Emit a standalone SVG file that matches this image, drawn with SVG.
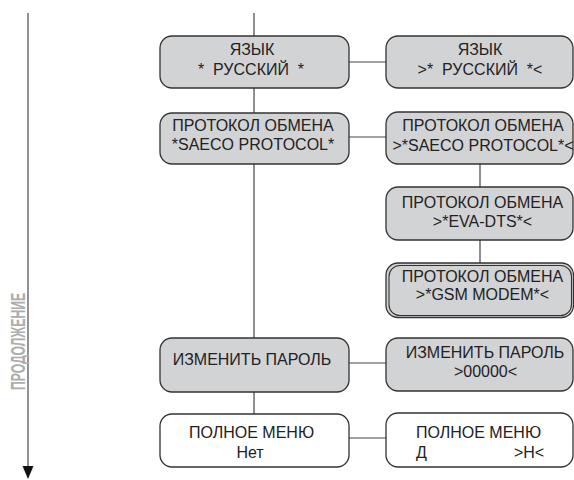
<svg xmlns="http://www.w3.org/2000/svg" width="574" height="480" viewBox="0 0 574 480">
<style>
.box{fill:#d2d3d5;stroke:#333;stroke-width:1.3}
.wbox{fill:#fff;stroke:#333;stroke-width:1.3}
.t{font-family:"Liberation Sans",Arial,sans-serif;font-size:16px;fill:#222;text-anchor:middle}
.c{stroke:#444;stroke-width:1.2;fill:none}
.side{font-family:"Liberation Sans",Arial,sans-serif;font-size:20px;font-weight:700;fill:#adadad}
</style>
<g id="side">
<line x1="28" y1="13" x2="28" y2="467" stroke="#777" stroke-width="1.6"/>
<polygon points="22.5,466 33.5,466 28,479" fill="#111"/>
<text class="side" transform="translate(25,390) rotate(-90)" textLength="97" lengthAdjust="spacingAndGlyphs">ПРОДОЛЖЕНИЕ</text>
</g>
<g id="connectors">
<line class="c" x1="254" y1="13" x2="254" y2="414"/>
<line class="c" x1="349" y1="62" x2="386" y2="62"/>
<line class="c" x1="349" y1="137" x2="386" y2="137"/>
<line class="c" x1="480" y1="164" x2="480" y2="187"/>
<line class="c" x1="480" y1="240" x2="480" y2="263"/>
<line class="c" x1="349" y1="363" x2="386" y2="363"/>
<line class="c" x1="349" y1="438" x2="386" y2="438"/>
</g>
<g id="n1">
<rect class="box" x="160" y="36" width="189" height="52" rx="12"/>
<text class="t" x="252" y="55">ЯЗЫК</text>
<text class="t" x="251" y="75" xml:space="preserve">*  РУССКИЙ  *</text>
</g>
<g id="n2">
<rect class="box" x="386" y="36" width="187" height="52" rx="12"/>
<text class="t" x="480" y="55">ЯЗЫК</text>
<text class="t" x="480" y="75" xml:space="preserve">&gt;*  РУССКИЙ  *&lt;</text>
</g>
<g id="n3">
<rect class="box" x="160" y="113" width="189" height="51" rx="12"/>
<text class="t" x="253" y="131">ПРОТОКОЛ ОБМЕНА</text>
<text class="t" x="253" y="150">*SAECO PROTOCOL*</text>
</g>
<g id="n4">
<rect class="box" x="386" y="112" width="187" height="52" rx="12"/>
<text class="t" x="483" y="131">ПРОТОКОЛ ОБМЕНА</text>
<text class="t" x="483" y="151">&gt;*SAECO PROTOCOL*&lt;</text>
</g>
<g id="n5">
<rect class="box" x="386" y="187" width="187" height="53" rx="12"/>
<text class="t" x="482.5" y="208">ПРОТОКОЛ ОБМЕНА</text>
<text class="t" x="482.5" y="227">&gt;*EVA-DTS*&lt;</text>
</g>
<g id="n6">
<rect class="box" x="386" y="263" width="187.5" height="54.5" rx="12"/>
<rect fill="none" stroke="#333" stroke-width="1.1" x="389" y="265.5" width="182.5" height="50" rx="11"/>
<text class="t" x="482.5" y="282">ПРОТОКОЛ ОБМЕНА</text>
<text class="t" x="482.5" y="300">&gt;*GSM MODEM*&lt;</text>
</g>
<g id="n7">
<rect class="box" x="160" y="338" width="189" height="54" rx="12"/>
<text class="t" x="252" y="365">ИЗМЕНИТЬ ПАРОЛЬ</text>
</g>
<g id="n8">
<rect class="box" x="386" y="338" width="187" height="53" rx="12"/>
<text class="t" x="485" y="358">ИЗМЕНИТЬ ПАРОЛЬ</text>
<text class="t" x="485.5" y="377">&gt;00000&lt;</text>
</g>
<g id="n9">
<rect class="wbox" x="160" y="414" width="189" height="53" rx="12"/>
<text class="t" x="251.5" y="438">ПОЛНОЕ МЕНЮ</text>
<text class="t" x="250" y="458">Нет</text>
</g>
<g id="n10">
<rect class="wbox" x="386" y="413" width="187" height="54" rx="12"/>
<text class="t" x="478.5" y="438">ПОЛНОЕ МЕНЮ</text>
<text class="t" x="416" y="458" style="text-anchor:start">Д</text>
<text class="t" x="529" y="458">&gt;Н&lt;</text>
</g>
</svg>
